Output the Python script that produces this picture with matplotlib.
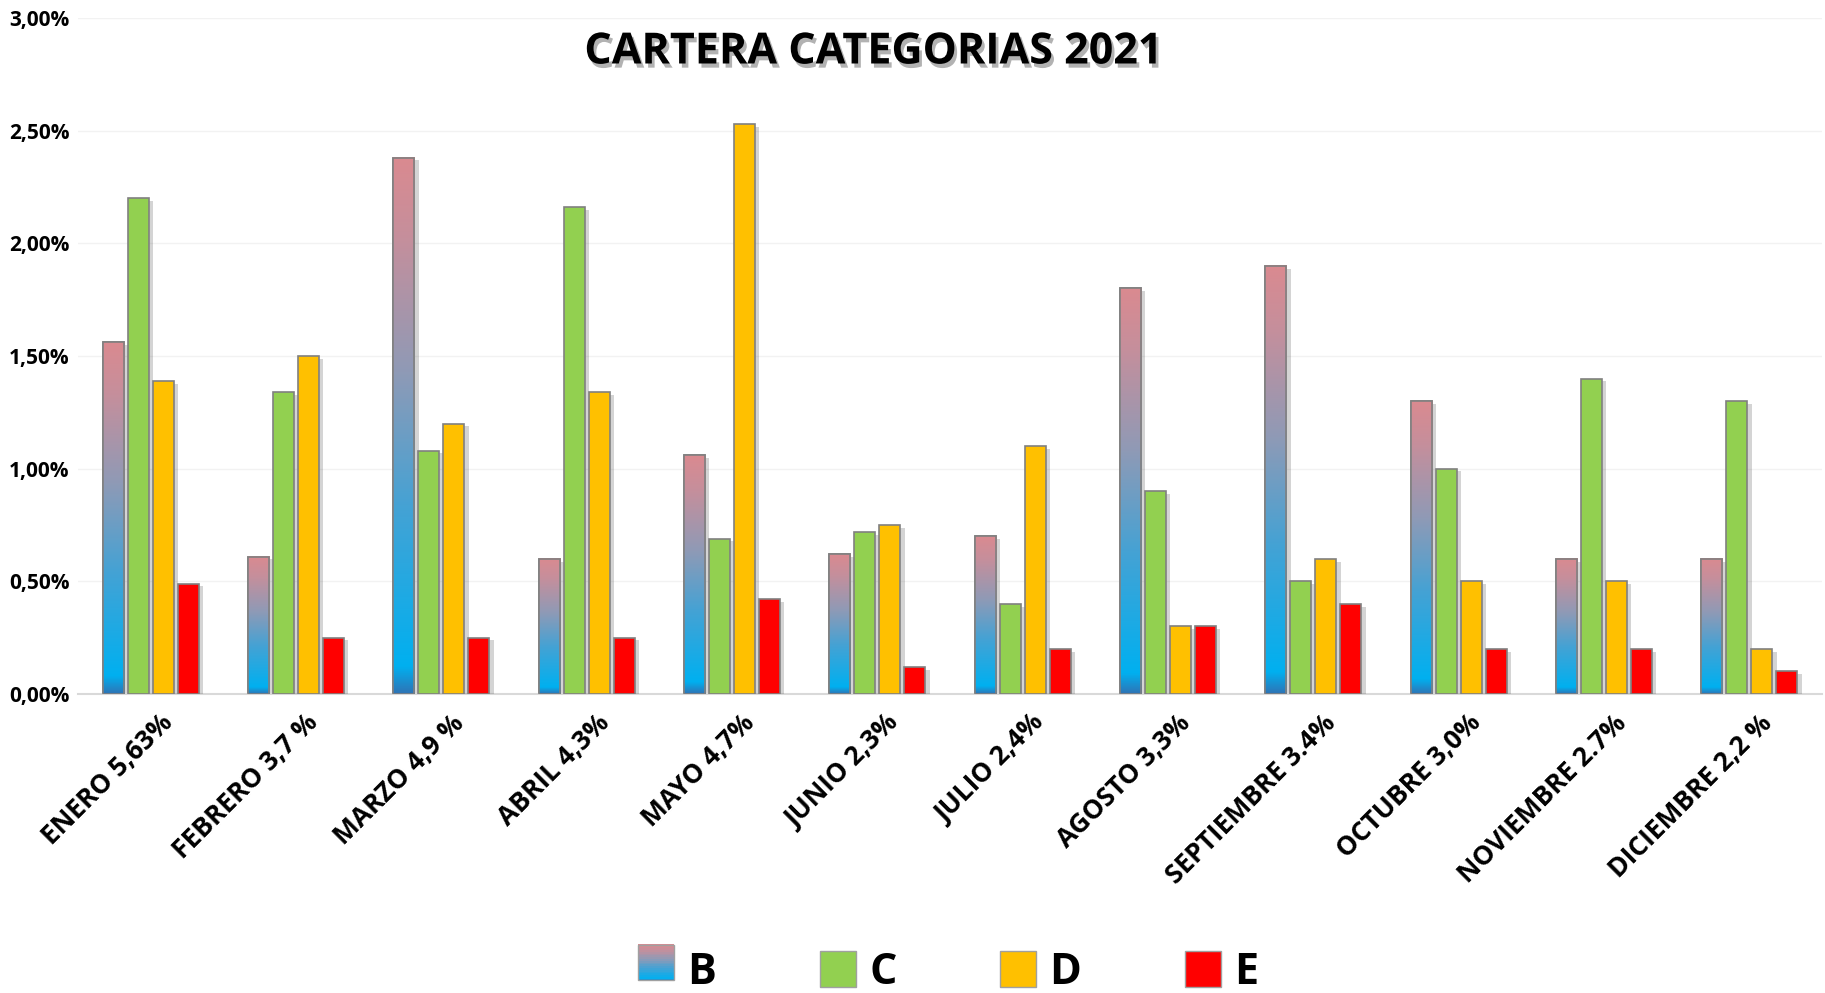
import matplotlib
matplotlib.use("Agg")
import matplotlib.pyplot as plt
import matplotlib.patheffects as pe
from matplotlib.colors import LinearSegmentedColormap
from matplotlib.legend_handler import HandlerBase
from matplotlib.patches import Rectangle
import numpy as np

plt.rcParams['font.family'] = ['Open Sans', 'DejaVu Sans']

# datos (porcentaje)
meses = ["ENERO 5,63%", "FEBRERO 3,7 %", "MARZO 4,9 %", "ABRIL 4,3%", "MAYO 4,7%",
         "JUNIO 2,3%", "JULIO 2,4%", "AGOSTO 3,3%", "SEPTIEMBRE 3.4%",
         "OCTUBRE 3,0%", "NOVIEMBRE 2.7%", "DICIEMBRE 2,2 %"]
cat_b = [1.56, 0.61, 2.38, 0.60, 1.06, 0.62, 0.70, 1.80, 1.90, 1.30, 0.60, 0.60]
cat_c = [2.20, 1.34, 1.08, 2.16, 0.69, 0.72, 0.40, 0.90, 0.50, 1.00, 1.40, 1.30]
cat_d = [1.39, 1.50, 1.20, 1.34, 2.53, 0.75, 1.10, 0.30, 0.60, 0.50, 0.50, 0.20]
cat_e = [0.49, 0.25, 0.25, 0.25, 0.42, 0.12, 0.20, 0.30, 0.40, 0.20, 0.20, 0.10]
series = ["B", "C", "D", "E"]
colores = [None, "#92d050", "#ffc000", "#ff0000"]
yticks = [0, 0.5, 1.0, 1.5, 2.0, 2.5, 3.0]

grad_cmap = LinearSegmentedColormap.from_list(
    "bgrad", [(0.0, "#2e75b6"), (0.05, "#00b0f0"), (0.35, "#45a2d4"),
              (0.6, "#8f9ab6"), (0.85, "#c58f9c"), (1.0, "#da8a90")])

W, H = 1825, 993
fig = plt.figure(figsize=(W / 100, H / 100), dpi=100)
ax = fig.add_axes([78 / W, (H - 694) / H, (1822 - 78) / W, (694 - 18) / H])

x = np.arange(len(meses))
width = 0.145
pitch = 0.172
offsets = (np.arange(4) - 1.5) * pitch
shadow = [pe.SimplePatchShadow(offset=(3, -2), alpha=0.25, shadow_rgbFace="#555555"), pe.Normal()]

grad = np.linspace(0, 1, 256).reshape(-1, 1)
for i, vals in enumerate([cat_b, cat_c, cat_d, cat_e]):
    v = np.array(vals) / 100
    xs = x + offsets[i]
    if i == 0:
        bars = ax.bar(xs, v, width, color="white", edgecolor="#808080", linewidth=1.2, zorder=2)
        for b in bars:
            b.set_path_effects(shadow)
            x0 = b.get_x()
            ax.imshow(grad, extent=[x0, x0 + width, 0, b.get_height()], origin="lower",
                      aspect="auto", cmap=grad_cmap, zorder=3)
        ax.bar(xs, v, width, facecolor="none", edgecolor="#808080", linewidth=1.2, zorder=4)
    else:
        bars = ax.bar(xs, v, width, color=colores[i], edgecolor="#808080", linewidth=1.2, zorder=3)
        for b in bars:
            b.set_path_effects(shadow)

ax.set_xlim(-0.5, len(meses) - 0.5)
ax.set_ylim(0, 0.03)
ax.set_yticks([t / 100 for t in yticks])
ax.set_yticklabels([f"{t:.2f}%".replace(".", ",") for t in yticks], fontsize=15, fontweight="bold")
ax.yaxis.grid(True, color="#f2f2f2", linewidth=1)
ax.set_axisbelow(True)
for s in ["top", "right", "left"]:
    ax.spines[s].set_visible(False)
ax.spines["bottom"].set_color("#d9d9d9")
ax.spines["bottom"].set_linewidth(1.5)
ax.tick_params(axis="both", length=0)
ax.tick_params(axis="y", pad=6)

ax.set_xticks(x + 0.06)
ax.set_xticklabels(meses, rotation=45, ha="right", rotation_mode="anchor",
                   fontsize=19, fontweight="bold")
ax.tick_params(axis="x", pad=11)

fig.text(873 / W, 1 - 52 / H, "CARTERA CATEGORIAS 2021", ha="center", va="center",
         fontsize=31, fontweight="bold",
         path_effects=[pe.SimplePatchShadow(offset=(2, -3), alpha=0.3), pe.Normal()])


class GradHandler(HandlerBase):
    def create_artists(self, legend, orig, xd, yd, w, h, fontsize, trans):
        arts = []
        n = 20
        for k in range(n):
            r = Rectangle((xd, yd + h * k / n), w, h / n + 0.3, facecolor=grad_cmap((k + 0.5) / n),
                          edgecolor="none", transform=trans)
            arts.append(r)
        arts.append(Rectangle((xd, yd), w, h, facecolor="none", edgecolor="#a0a0a0",
                              linewidth=1, transform=trans))
        return arts


handles = [Rectangle((0, 0), 1, 1, facecolor="white")]
handles += [Rectangle((0, 0), 1, 1, facecolor=c, edgecolor="#a0a0a0") for c in colores[1:]]
fig.legend(handles, series, handler_map={handles[0]: GradHandler()},
           loc="center", bbox_to_anchor=(948 / W, 1 - 972 / H), ncol=4, frameon=False,
           prop={"size": 31, "weight": "bold"}, handlelength=0.85, handleheight=0.9,
           handletextpad=0.3, columnspacing=2.4)

fig.savefig("out.png", dpi=100)
